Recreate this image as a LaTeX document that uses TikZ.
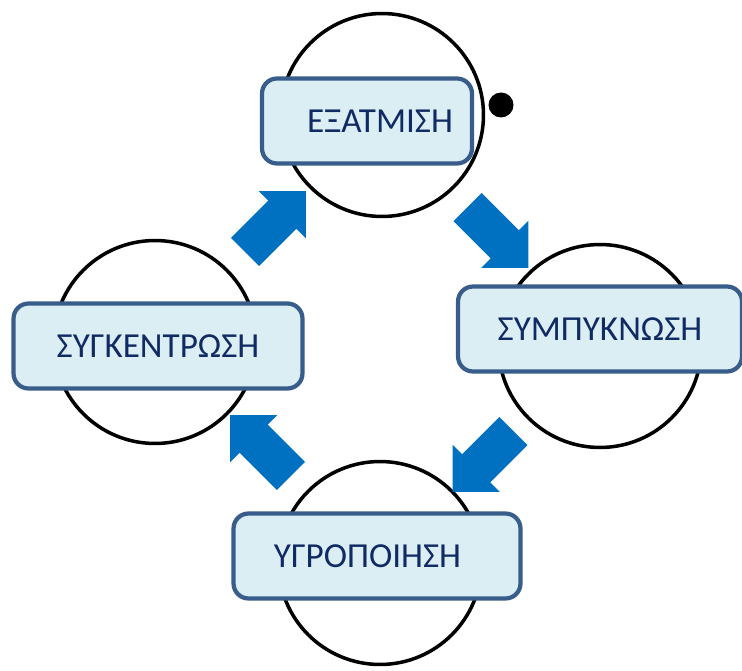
\documentclass[tikz,border=0pt]{standalone}
\usepackage{fontspec}
\setmainfont{Carlito}
\usetikzlibrary{shapes.arrows,calc}
\definecolor{boxfill}{RGB}{219,238,244}
\definecolor{boxline}{RGB}{56,93,138}
\definecolor{boxtext}{RGB}{16,42,99}
\definecolor{flow}{RGB}{0,112,192}
\begin{document}
\begin{tikzpicture}[x=0.02cm, y=-0.02cm, line join=round,
	ring/.style={circle, draw=black, line width=2pt, minimum size=4.06cm, inner sep=0pt},
	spot/.style={circle, fill=black, minimum size=0.5cm, inner sep=0pt},
	stage/.style={draw=boxline, fill=boxfill, line width=2.4pt, rounded corners=0.3cm, minimum height=1.7cm, inner sep=0pt, text=boxtext, font=\fontsize{20}{24}\selectfont},
	flowarrow/.style={single arrow, fill=flow, inner xsep=0pt, inner ysep=0.39cm, minimum height=1.72cm, single arrow head extend=0.27cm, single arrow tip angle=90}]
	\useasboundingbox (0,0) rectangle (742,671);
	% the four rings
	\node[ring] (evap) at (382,115) {};
	\node[ring] (cond) at (600,346) {};
	\node[ring] (prec) at (380,563) {};
	\node[ring] (coll) at (155,342) {};
	\node[spot] (sun) at (501,105) {};
	% block arrows between the rings
	\foreach \a/\b/\r in {coll/evap/45, evap/cond/-45, cond/prec/-135, prec/coll/135}
		\node[flowarrow, rotate=\r] (arr-\a) at ($(\a)!0.5!(\b)$) {};
	% labels
	\node[stage, minimum width=4.2cm] (evapbox) at (367,121) {\hspace*{0.52cm}ΕΞΑΤΜΙΣΗ};
	\node[stage, minimum width=5.68cm] (condbox) at (600,329) {ΣΥΜΠΥΚΝΩΣΗ};
	\node[stage, minimum width=5.74cm] (precbox) at (377,556) {ΥΓΡΟΠΟΙΗΣΗ\hspace*{0.38cm}};
	\node[stage, minimum width=5.78cm] (collbox) at (158,346) {ΣΥΓΚΕΝΤΡΩΣΗ};
\end{tikzpicture}
\end{document}
